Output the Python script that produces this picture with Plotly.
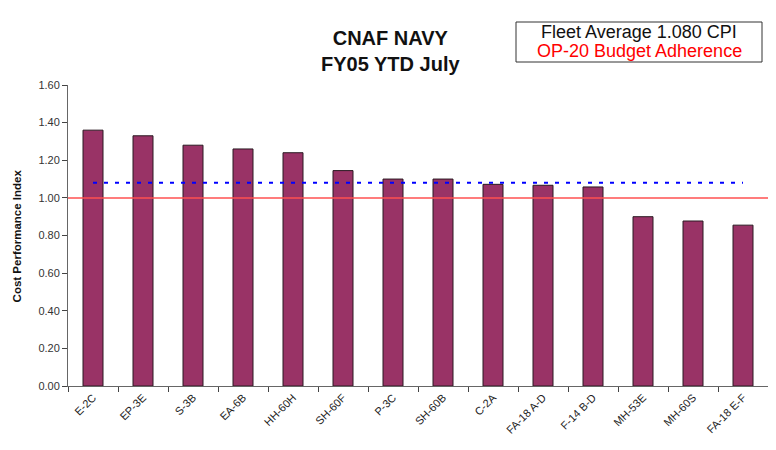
import plotly.graph_objects as go

categories = ["E-2C", "EP-3E", "S-3B", "EA-6B", "HH-60H", "SH-60F", "P-3C",
              "SH-60B", "C-2A", "FA-18 A-D", "F-14 B-D", "MH-53E", "MH-60S", "FA-18 E-F"]
cpi_values = [1.36, 1.33, 1.28, 1.26, 1.24, 1.145, 1.10,
              1.10, 1.072, 1.067, 1.058, 0.90, 0.877, 0.855]
fleet_average = 1.08
budget_adherence = 1.0
y_tick_values = [0.0, 0.2, 0.4, 0.6, 0.8, 1.0, 1.2, 1.4, 1.6]
y_tick_labels = ["0.00", "0.20", "0.40", "0.60", "0.80", "1.00", "1.20", "1.40", "1.60"]

FONT = "Liberation Sans, Arial, sans-serif"

fig = go.Figure()
fig.add_trace(go.Bar(
    x=categories, y=cpi_values, width=0.4,
    marker=dict(color="#993366", line=dict(color="#2a1a22", width=1)),
    showlegend=False, hoverinfo="x+y",
))
fig.add_trace(go.Scatter(
    x=categories, y=[fleet_average] * len(categories), mode="lines",
    line=dict(color="#0000ff", width=2, dash="4px,7px"),
    showlegend=False,
))

fig.add_shape(type="line", xref="paper", yref="y", x0=0, x1=1,
              y0=budget_adherence, y1=budget_adherence,
              line=dict(color="#ff5050", width=1.5), layer="above")

# page body adds an 8px offset, so the figure is sized to fit the 776x450 window
fig.update_layout(
    width=768, height=442,
    margin=dict(l=60, r=8, t=77, b=64),
    paper_bgcolor="white", plot_bgcolor="white",
    font=dict(family=FONT, size=11, color="#222"),
    bargap=0.6,
    xaxis=dict(
        automargin=False,
        showline=True, linecolor="#666", linewidth=1,
        ticks="outside", ticklen=5, tickcolor="#444", tickson="boundaries",
        tickangle=-45, tickfont=dict(size=11, color="#222"),
        showgrid=False, zeroline=False,
    ),
    yaxis=dict(
        automargin=False,
        range=[0, 1.6], tickvals=y_tick_values, ticktext=y_tick_labels,
        showline=True, linecolor="#666", linewidth=1,
        ticks="outside", ticklen=5, tickcolor="#444",
        tickfont=dict(size=11, color="#333"),
        showgrid=False, zeroline=False,
    ),
)

fig.add_annotation(
    xref="paper", yref="paper", x=-0.073, y=0.5, xanchor="center", yanchor="middle",
    text="<b>Cost Performance Index</b>", textangle=-90, showarrow=False,
    font=dict(family=FONT, size=11.5, color="#111"),
)

fig.add_annotation(
    xref="paper", yref="paper", x=0.46, y=1.0, yshift=8, yanchor="bottom",
    text="<b>CNAF NAVY<br>FY05 YTD July</b>", showarrow=False,
    font=dict(family=FONT, size=20, color="#111"), align="center",
)

fig.add_shape(type="rect", xref="paper", yref="paper",
              x0=(516 - 68) / 700, x1=(762 - 68) / 700,
              y0=(386 - 62) / 301, y1=(386 - 22) / 301,
              line=dict(color="#333", width=1), fillcolor="white")
fig.add_annotation(
    xref="paper", yref="paper", x=(639 - 68) / 700, y=(386 - 32) / 301,
    xanchor="center", yanchor="middle",
    text="Fleet Average 1.080 CPI", showarrow=False,
    font=dict(family=FONT, size=18, color="#111"),
)
fig.add_annotation(
    xref="paper", yref="paper", x=(639 - 68) / 700, y=(386 - 51) / 301,
    xanchor="center", yanchor="middle",
    text="OP-20 Budget Adherence", showarrow=False,
    font=dict(family=FONT, size=18, color="#ff0000"),
)

fig.write_html("out.html")
